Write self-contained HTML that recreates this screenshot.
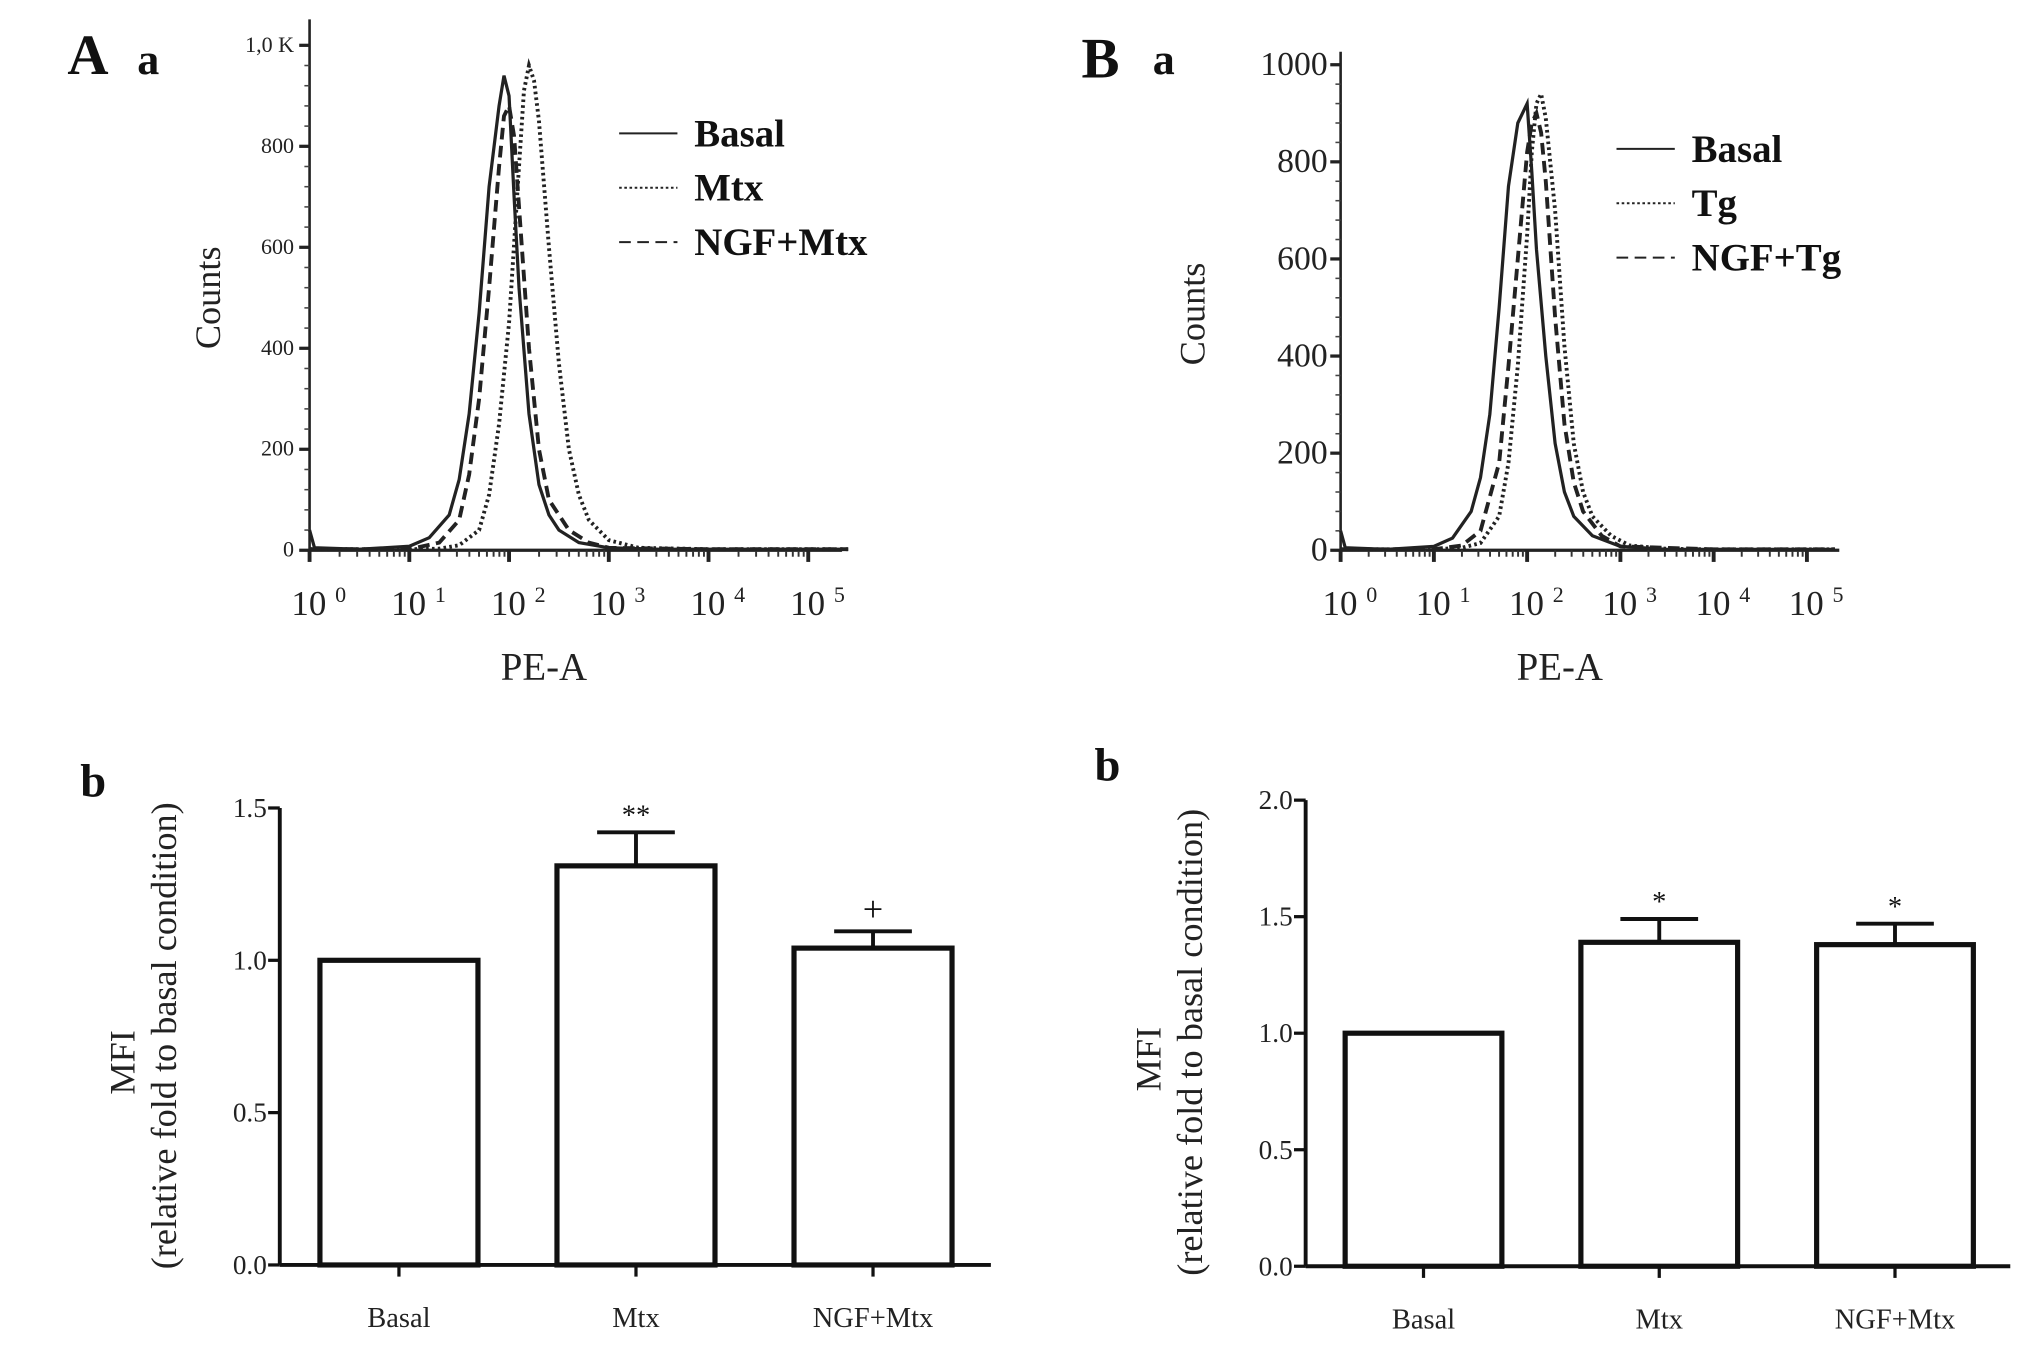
<!DOCTYPE html>
<html><head><meta charset="utf-8"><style>
html,body{margin:0;padding:0;background:#fff;}
svg{display:block;font-family:"Liberation Serif",serif;}
</style></head><body>
<svg id="fig" width="2031" height="1353" viewBox="0 0 1568 1045" preserveAspectRatio="none">
<g id="root"></g>
</svg>
<script>
// ---------- DATA ----------
const histLogsA_basal = [0,0.05,0.5,1.0,1.2,1.4,1.5,1.6,1.7,1.8,1.9,1.95,2.0,2.05,2.1,2.2,2.3,2.4,2.5,2.7,3.0,3.5,4.0,5.0,5.4];
const histA_basal     = [40,5,2,8,25,70,140,270,470,720,880,940,900,700,520,270,130,70,40,15,5,2,2,2,2];
const histLogsA_mtx   = [0,1.0,1.3,1.5,1.7,1.8,1.9,2.0,2.1,2.15,2.2,2.25,2.3,2.4,2.5,2.6,2.7,2.8,3.0,3.3,4.0,5.4];
const histA_mtx       = [2,2,3,10,40,110,250,450,760,910,960,930,850,600,370,200,110,60,20,5,2,2];
const histLogsA_ngf   = [0,1.0,1.3,1.5,1.6,1.7,1.8,1.9,1.95,2.0,2.05,2.1,2.2,2.3,2.4,2.6,2.8,3.0,4.0,5.4];
const histA_ngf       = [2,2,15,60,150,300,520,760,860,880,820,680,400,200,100,40,15,5,2,2];

const histLogsB_basal = [0,0.05,0.5,1.0,1.2,1.4,1.5,1.6,1.7,1.8,1.9,1.95,2.0,2.05,2.1,2.2,2.3,2.4,2.5,2.7,3.0,3.5,4.0,5.0,5.3];
const histB_basal     = [40,5,2,8,25,80,150,280,500,750,880,900,920,780,620,400,220,120,70,30,8,2,2,2,2];
const histLogsB_tg    = [0,1.0,1.3,1.5,1.7,1.8,1.9,2.0,2.05,2.1,2.15,2.2,2.3,2.4,2.5,2.6,2.7,2.9,3.1,3.5,4.0,5.3];
const histB_tg        = [2,2,5,15,70,180,380,650,820,920,940,890,700,420,220,120,70,30,10,3,2,2];
const histLogsB_ngf   = [0,1.0,1.3,1.5,1.7,1.8,1.9,2.0,2.05,2.1,2.15,2.2,2.3,2.4,2.5,2.6,2.8,3.0,4.0,5.3];
const histB_ngf       = [2,2,10,40,180,380,600,820,880,900,860,760,480,260,140,80,30,8,2,2];

const barCatsA = ["Basal","Mtx","NGF+Mtx"];
const barValsA = [1.0,1.31,1.04];
const barErrA  = [0,0.11,0.055];
const barSigA  = ["","**","+"];
const barCatsB = ["Basal","Mtx","NGF+Mtx"];
const barValsB = [1.0,1.39,1.38];
const barErrB  = [0,0.10,0.09];
const barSigB  = ["","*","*"];
const yTicksAb = ["0.0","0.5","1.0","1.5"];
const yTicksBb = ["0.0","0.5","1.0","1.5","2.0"];
const yTicksAa = ["0","200","400","600","800","1,0 K"];
const yTicksBa = ["0","200","400","600","800","1000"];

// ---------- DRAW ----------
const NS="http://www.w3.org/2000/svg";
const root=document.getElementById('root');
function el(tag,attrs,parent,text){const e=document.createElementNS(NS,tag);for(const k in attrs)e.setAttribute(k,attrs[k]);if(text!==undefined)e.textContent=text;(parent||root).appendChild(e);return e;}

function hist(cfg){
  const g=el('g',{});
  
  
  const xs=v=>cfg.x0+v*cfg.dec;
  const ys=v=>cfg.y0-v*cfg.ppc;
  el('line',{x1:cfg.x0,y1:cfg.y0+3,x2:cfg.x0,y2:cfg.ytop,stroke:'#222','stroke-width':2},g);
  el('line',{x1:cfg.x0,y1:cfg.y0,x2:cfg.xend,y2:cfg.y0,stroke:'#222','stroke-width':2.5},g);
  cfg.yt.forEach((t,i)=>{const y=ys(i*200);
    el('line',{x1:cfg.x0-8,y1:y,x2:cfg.x0,y2:y,stroke:'#222','stroke-width':2.5},g);
    const tx=el('text',{x:cfg.x0-(cfg.big?10:12),y:y+(cfg.big?8:5),'text-anchor':'end','font-size':cfg.big?26:17,fill:'#222'},g,t);
    
    
    for(let k=1;k<5&&i<cfg.yt.length-1;k++){const yy=ys(i*200+k*40);el('line',{x1:cfg.x0-4,y1:yy,x2:cfg.x0,y2:yy,stroke:'#444','stroke-width':1.2},g);}
  });
  for(let d=0;d<=5;d++){
    el('line',{x1:xs(d),y1:cfg.y0,x2:xs(d),y2:cfg.y0+9,stroke:'#222','stroke-width':3},g);
    if(d<5)for(let m=2;m<10;m++){const xx=xs(d+Math.log10(m));el('line',{x1:xx,y1:cfg.y0,x2:xx,y2:cfg.y0+5,stroke:'#333','stroke-width':1.5},g);}
    const t=el('text',{x:xs(d)-14,y:cfg.y0+50,'font-size':27,fill:'#222'},g);
    
    
    el('tspan',{},t,'10 ');el('tspan',{dy:-10,'font-size':17},t,String(d));
  }
  cfg.series.forEach(s=>{
    const d=s.lx.map((v,i)=>(i?'L':'M')+xs(v).toFixed(1)+' '+ys(s.v[i]).toFixed(1)).join(' ');
    const p=el('path',{d:d,fill:'none',stroke:'#222','stroke-width':s.w,'stroke-dasharray':s.dash},g);
    
    
  });
  cfg.legend.forEach((L,i)=>{
    const y=cfg.ly+i*42;
    el('line',{x1:cfg.lx,y1:y,x2:cfg.lx+45,y2:y,stroke:'#222','stroke-width':1.5,'stroke-dasharray':L.dash},g);
    const t=el('text',{x:cfg.lx+58,y:y+10,'font-size':30,'font-weight':'bold',fill:'#111'},g,L.t);
    
    
  });
  const yl=el('text',{transform:`translate(${cfg.yLabX},${(cfg.y0+cfg.ytop)/2+10}) rotate(-90)`,'text-anchor':'middle','font-size':28,fill:'#222'},g,'Counts');
  
  
  const xl=el('text',{x:xs(2.35),y:cfg.y0+100,'text-anchor':'middle','font-size':30,fill:'#222'},g,'PE-A');
  
  
}

function bars(cfg){
  const g=el('g',{});
  
  
  const ys=v=>cfg.y0-v*cfg.ppu;
  el('line',{x1:cfg.x0,y1:cfg.y0,x2:cfg.x0,y2:ys(cfg.ymax),stroke:'#111','stroke-width':3},g);
  el('line',{x1:cfg.x0,y1:cfg.y0,x2:cfg.xend,y2:cfg.y0,stroke:'#111','stroke-width':3},g);
  cfg.yt.forEach(t=>{const y=ys(parseFloat(t));
    el('line',{x1:cfg.x0-9,y1:y,x2:cfg.x0,y2:y,stroke:'#111','stroke-width':2.5},g);
    const tx=el('text',{x:cfg.x0-10,y:y+7,'text-anchor':'end','font-size':21,fill:'#222'},g,t);
    
    
  });
  cfg.cats.forEach((c,i)=>{
    const cx=cfg.c0+i*cfg.step, w=cfg.bw, v=cfg.vals[i];
    const r=el('rect',{x:cx-w/2,y:ys(v),width:w,height:cfg.y0-ys(v),fill:'#fff',stroke:'#111','stroke-width':4},g);
    
    
    if(cfg.err[i]>0){
      const top=ys(v+cfg.err[i]);
      el('line',{x1:cx,y1:ys(v),x2:cx,y2:top,stroke:'#111','stroke-width':3},g);
      el('line',{x1:cx-30,y1:top,x2:cx+30,y2:top,stroke:'#111','stroke-width':3},g);
      const s=el('text',{x:cx,y:top-(cfg.sig[i]==='+'?8:6),'text-anchor':'middle','font-size':cfg.sig[i]==='+'?28:22,fill:'#111'},g,cfg.sig[i]);
      
      
    }
    el('line',{x1:cx,y1:cfg.y0,x2:cx,y2:cfg.y0+9,stroke:'#111','stroke-width':2.5},g);
    const t=el('text',{x:cx,y:cfg.y0+48,'text-anchor':'middle','font-size':22,fill:'#222'},g,c);
    
    
  });
  const mid=(cfg.y0+ys(cfg.ymax))/2+20;
  const a=el('text',{transform:`translate(${cfg.x0-112},${mid}) rotate(-90)`,'text-anchor':'middle','font-size':28,fill:'#222'},g,'MFI');
  
  
  const b=el('text',{transform:`translate(${cfg.x0-80},${cfg.labY}) rotate(-90)`,'text-anchor':'middle','font-size':28,fill:'#222'},g,'(relative fold to basal condition)');
  
  
}

hist({name:'histogram-a',x0:239,dec:77,y0:425,ytop:15,ppc:0.39,xend:650,yt:yTicksAa,big:false,yLabX:170,lx:478,ly:103,
 series:[{name:'series-basal',lx:histLogsA_basal,v:histA_basal,dash:'',w:2.5},
         {name:'series-mtx',lx:histLogsA_mtx,v:histA_mtx,dash:'2 2.5',w:3},
         {name:'series-ngf-mtx',lx:histLogsA_ngf,v:histA_ngf,dash:'9 5',w:3}],
 legend:[{t:'Basal',dash:''},{t:'Mtx',dash:'2 2'},{t:'NGF+Mtx',dash:'9 5'}]});
hist({name:'histogram-b',x0:1035,dec:72,y0:425,ytop:40,ppc:0.375,xend:1420,yt:yTicksBa,big:true,yLabX:930,lx:1248,ly:115,
 series:[{name:'series-basal',lx:histLogsB_basal,v:histB_basal,dash:'',w:2.5},
         {name:'series-tg',lx:histLogsB_tg,v:histB_tg,dash:'2 2.5',w:3},
         {name:'series-ngf-tg',lx:histLogsB_ngf,v:histB_ngf,dash:'9 5',w:3}],
 legend:[{t:'Basal',dash:''},{t:'Tg',dash:'2 2'},{t:'NGF+Tg',dash:'9 5'}]});

bars({name:'bar-chart-a',x0:216,xend:765,y0:977,ppu:235.3,ymax:1.5,yt:yTicksAb,c0:308,step:183,bw:122,cats:barCatsA,vals:barValsA,err:barErrA,sig:barSigA,labY:800});
bars({name:'bar-chart-b',x0:1008,xend:1552,y0:978,ppu:180,ymax:2.0,yt:yTicksBb,c0:1099,step:182,bw:121,cats:barCatsB,vals:barValsB,err:barErrB,sig:barSigB,labY:805});

[['A',52,57,44],['a',106,57,34],['B',835,60,44],['a',890,57,34],['b',62,615,36],['b',845,603,36]].forEach(p=>{
  const t=el('text',{x:p[1],y:p[2],'font-size':p[3],'font-weight':'bold',fill:'#111'},root,p[0]);
  
  
});
</script>
</body></html>
